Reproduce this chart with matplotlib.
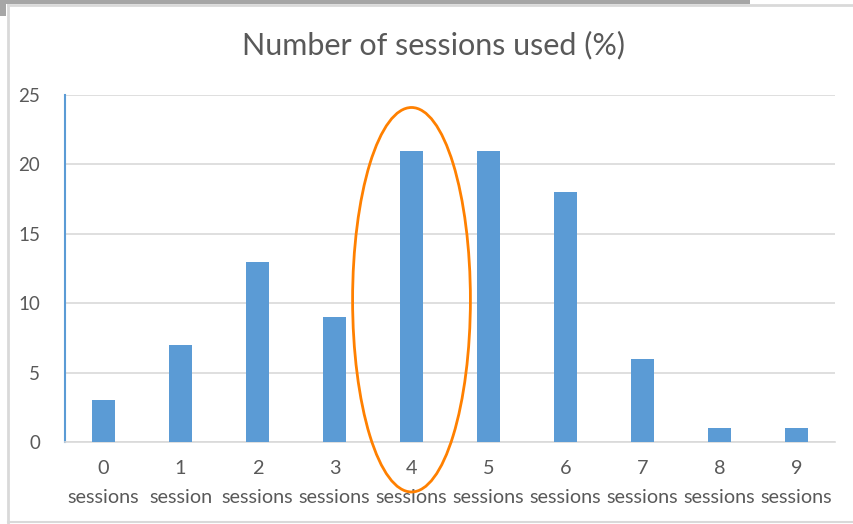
import matplotlib
matplotlib.use("Agg")
import matplotlib.pyplot as plt
from matplotlib.patches import Ellipse, Rectangle
from matplotlib.lines import Line2D

# ── Datos ──────────────────────────────────────────────────────────────────────
sesiones = ["0", "1", "2", "3", "4", "5", "6", "7", "8", "9"]
etiquetas = ["sessions", "session", "sessions", "sessions", "sessions",
             "sessions", "sessions", "sessions", "sessions", "sessions"]
porcentajes = [3, 7, 13, 9, 21, 21, 18, 6, 1, 1]
destacado = 4

AZUL = "#5b9bd5"
GRIS_TXT = "#595959"
GRIS_GRID = "#d9d9d9"
NARANJA = "#ff8000"

plt.rcParams["font.family"] = ["Lato", "DejaVu Sans"]

fig = plt.figure(figsize=(8.54, 5.24), dpi=100)
ax = fig.add_axes([65 / 854, 1 - 442 / 524, 770 / 854, 347 / 524])

x = list(range(len(sesiones)))
ax.bar(x, porcentajes, width=0.3, color=AZUL, zorder=3)

ax.set_xlim(-0.5, len(sesiones) - 0.5)
ax.set_ylim(0, 25)
ax.set_yticks([0, 5, 10, 15, 20, 25])
ax.yaxis.grid(True, color=GRIS_GRID, linewidth=1.2, zorder=0)

ax.set_xticks(x)
ax.set_xticklabels([f"{s}\n{e}" for s, e in zip(sesiones, etiquetas)],
                   linespacing=1.85)
ax.tick_params(axis="x", length=0, pad=13, labelsize=14.3, colors=GRIS_TXT)
ax.tick_params(axis="y", length=0, pad=18, labelsize=13.5, colors=GRIS_TXT)

for lado in ["top", "right"]:
    ax.spines[lado].set_visible(False)
ax.spines["left"].set_color(AZUL)
ax.spines["left"].set_linewidth(1.5)
ax.spines["bottom"].set_color(GRIS_GRID)
ax.spines["bottom"].set_linewidth(1.2)

# elipse que resalta la categoría de 4 sesiones
ax.add_patch(Ellipse((destacado, 10.25), width=1.53, height=27.7,
                     fill=False, edgecolor=NARANJA, linewidth=2,
                     clip_on=False, zorder=5))

fig.text(434 / 854, 1 - 45 / 524, "Number of sessions used (%)",
         ha="center", va="center", fontsize=22, color=GRIS_TXT)

# marco del gráfico
fig.add_artist(Rectangle((0, 1 - 4 / 524), 750 / 854, 4 / 524,
                         transform=fig.transFigure, color="#a6a6a6", lw=0))
fig.add_artist(Rectangle((0, 1 - 16 / 524), 6 / 854, 16 / 524,
                         transform=fig.transFigure, color="#a6a6a6", lw=0))
fig.add_artist(Line2D([8 / 854, 1], [1 - 5 / 524] * 2,
                      transform=fig.transFigure, color=GRIS_GRID, lw=2))
fig.add_artist(Line2D([8 / 854] * 2, [1 - 5 / 524, 0],
                      transform=fig.transFigure, color=GRIS_GRID, lw=2))
fig.add_artist(Line2D([8 / 854, 1], [2 / 524] * 2,
                      transform=fig.transFigure, color=GRIS_GRID, lw=1.5))

fig.savefig("out.png", dpi=100)
